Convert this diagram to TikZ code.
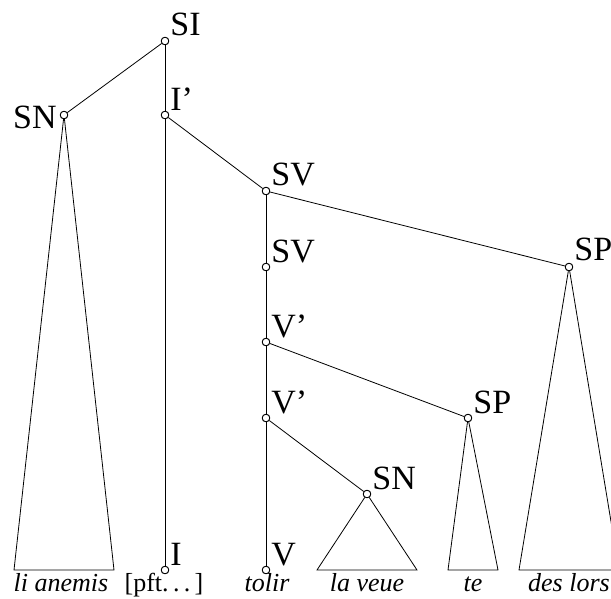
\documentclass[tikz,border=0pt]{standalone}
\usepackage{fontspec}
\setmainfont{Liberation Serif}
\begin{document}
\begin{tikzpicture}[x=1pt,y=-1pt,line width=0.8pt,
  dot/.style={circle,draw,fill=white,inner sep=0pt,minimum size=7.5pt},
  lab/.style={inner sep=0pt,font=\fontsize{34}{36}\selectfont},
  word/.style={inner sep=0pt,anchor=base,font=\fontsize{26}{28}\selectfont\itshape},
  wordup/.style={word,font=\fontsize{26}{28}\selectfont}]
\clip (0,0) rectangle (611,598);
% tree nodes
\node[dot] (si) at (165,41) {};
\node[dot] (snA) at (64,115) {};
\node[dot] (ib) at (165,115) {};
\node[dot] (sv1) at (266,191) {};
\node[dot] (sv2) at (266,267) {};
\node[dot] (spA) at (569,267) {};
\node[dot] (vb1) at (266,342) {};
\node[dot] (vb2) at (266,418) {};
\node[dot] (spB) at (468,418) {};
\node[dot] (snB) at (367,494) {};
\node[dot] (i) at (165,570) {};
\node[dot] (v) at (266,570) {};
% labels
\node[lab,anchor=base west] (siL) at ([shift={(5,-6)}]si.center) {SI};
\node[lab,anchor=base east] (snAL) at ([shift={(-7,13)}]snA.center) {SN};
\node[lab,anchor=base west] (ibL) at ([shift={(5,-5)}]ib.center) {I’};
\node[lab,anchor=base west] (sv1L) at ([shift={(5,-6)}]sv1.center) {SV};
\node[lab,anchor=base west] (sv2L) at ([shift={(5,-5)}]sv2.center) {SV};
\node[lab,anchor=base west] (spAL) at ([shift={(5,-7)}]spA.center) {SP};
\node[lab,anchor=base west] (vb1L) at ([shift={(5,-5)}]vb1.center) {V’};
\node[lab,anchor=base west] (vb2L) at ([shift={(5,-5)}]vb2.center) {V’};
\node[lab,anchor=base west] (spBL) at ([shift={(5,-5)}]spB.center) {SP};
\node[lab,anchor=base west] (snBL) at ([shift={(5,-5)}]snB.center) {SN};
\node[lab,anchor=base west] (iL) at ([shift={(5,-5)}]i.center) {I};
\node[lab,anchor=base west] (vL) at ([shift={(5,-5)}]v.center) {V};
% triangle base corners
\coordinate (a1) at (14,570); \coordinate (a2) at (114,570);
\coordinate (b1) at (317,570); \coordinate (b2) at (417,570);
\coordinate (c1) at (448,570); \coordinate (c2) at (498,570);
\coordinate (d1) at (519,570); \coordinate (d2) at (619,570);
% edges
\draw (si) -- (snA);
\draw (si) -- (ib);
\draw (ib) -- (i);
\draw (ib) -- (sv1);
\draw (sv1) -- (sv2);
\draw (sv1) -- (spA);
\draw (sv2) -- (vb1);
\draw (vb1) -- (vb2);
\draw (vb1) -- (spB);
\draw (vb2) -- (v);
\draw (vb2) -- (snB);
% triangles
\draw (snA) -- (a1) -- (a2) -- (snA);
\draw (snB) -- (b1) -- (b2) -- (snB);
\draw (spB) -- (c1) -- (c2) -- (spB);
\draw (spA) -- (d1) -- (d2) -- (spA);
% words
\node[word] (w1) at (61,591.5) {li anemis};
\node[wordup] (w2) at (164,591.5) {[pft.\,.\,.\,]};
\node[word] (w3) at (267,591.5) {tolir};
\node[word] (w4) at (367,591.5) {la veue};
\node[word] (w5) at (473,591.5) {te};
\node[word] (w6) at (569,591.5) {des lors};
% redraw dots on top
\foreach \n in {si,snA,ib,sv1,sv2,spA,vb1,vb2,spB,snB,i,v} \node[dot] at (\n) {};
\end{tikzpicture}
\end{document}
